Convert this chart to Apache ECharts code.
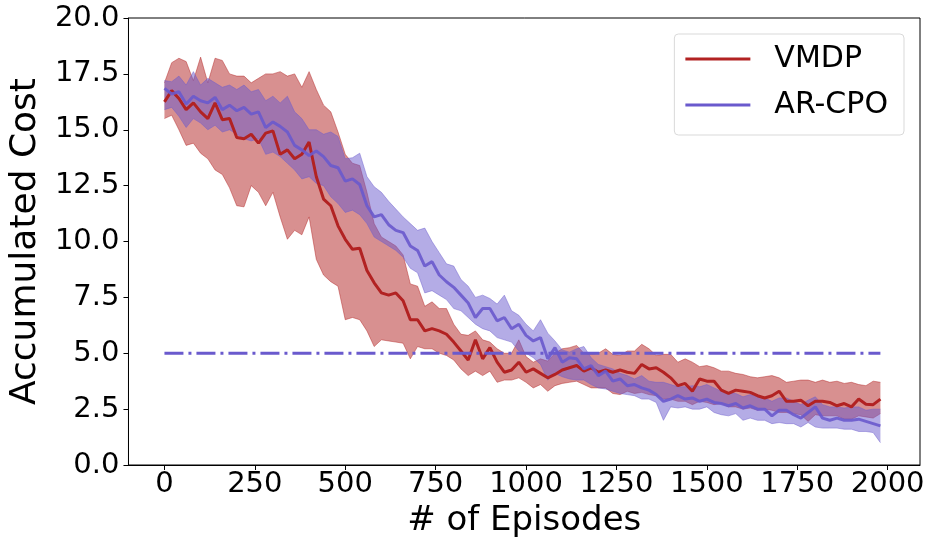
<!DOCTYPE html>
<html>
<head>
<meta charset="utf-8">
<script src="https://cdn.jsdelivr.net/npm/echarts@6/dist/echarts.min.js"></script>
<style>
  html, body { margin: 0; padding: 0; background: #fff; }
  #chart { width: 934px; height: 547px; }
</style>
</head>
<body>
<div id="chart"></div>
<script>
// episodes (x)
const episodes = [0, 20, 40, 60, 80, 100, 120, 140, 160, 180, 200, 220, 240, 260, 280, 300, 320, 340, 360, 380,
  400, 420, 440, 460, 480, 500, 520, 540, 560, 580, 600, 620, 640, 660, 680, 700, 720, 740, 760, 780,
  800, 820, 840, 860, 880, 900, 920, 940, 960, 980, 1000, 1020, 1040, 1060, 1080, 1100, 1120, 1140, 1160, 1180,
  1200, 1220, 1240, 1260, 1280, 1300, 1320, 1340, 1360, 1380, 1400, 1420, 1440, 1460, 1480, 1500, 1520, 1540, 1560, 1580,
  1600, 1620, 1640, 1660, 1680, 1700, 1720, 1740, 1760, 1780, 1800, 1820, 1840, 1860, 1880, 1900, 1920, 1940, 1960, 1980];

// VMDP
const vmdpMean = [16.25, 16.75, 16.4, 15.9, 16.2, 15.8, 15.5, 16.2, 15.45, 15.5, 14.65, 14.6, 14.8, 14.4, 14.85, 14.95, 13.9, 14.1, 13.7, 13.9,
  14.45, 12.9, 11.9, 11.6, 10.7, 10.1, 9.65, 9.7, 8.7, 8.15, 7.7, 7.6, 7.7, 7.35, 6.5, 6.5, 6.0, 6.1, 6.0, 5.85,
  5.5, 5.1, 4.7, 5.6, 4.75, 5.25, 4.6, 4.15, 4.25, 4.6, 4.15, 4.3, 4.1, 3.9, 4.05, 4.25, 4.35, 4.45, 4.2, 4.35,
  4.15, 4.25, 4.15, 4.25, 4.15, 4.1, 4.5, 4.3, 4.35, 4.15, 3.9, 3.55, 3.65, 3.3, 3.85, 3.75, 3.75, 3.35, 3.2, 3.35,
  3.3, 3.25, 3.1, 3.0, 3.1, 3.3, 2.85, 2.85, 2.9, 2.65, 2.85, 2.85, 2.8, 2.65, 2.75, 2.6, 2.95, 2.72, 2.7, 2.95];
const vmdpUpper = [17.1, 18.0, 18.2, 18.05, 17.2, 18.25, 17.1, 18.2, 18.1, 17.5, 17.4, 17.4, 17.1, 17.3, 17.5, 17.5, 17.6, 17.4, 17.5, 16.9,
  17.6, 16.8, 16.1, 15.8, 14.9, 13.9, 13.5, 13.4, 12.2, 10.8, 10.2, 10.0, 9.8, 9.4, 8.1, 8.0, 7.1, 7.3, 7.0, 7.0,
  6.3, 5.85, 5.8, 6.0, 5.6, 5.5, 5.2, 5.0, 5.0, 5.6, 4.85, 4.6, 4.75, 4.65, 5.0, 5.2, 5.25, 5.35, 5.0, 4.95,
  5.0, 5.2, 4.95, 4.9, 5.1, 5.1, 5.4, 5.2, 4.9, 4.95, 4.95, 4.6, 4.75, 4.6, 4.4, 4.45, 4.35, 4.2, 4.2, 4.1,
  4.05, 3.95, 3.9, 3.95, 4.0, 3.9, 3.7, 3.75, 3.8, 3.8, 3.7, 3.8, 3.7, 3.75, 3.65, 3.7, 3.6, 3.55, 3.75, 3.7];
const vmdpLower = [15.5, 15.65, 15.0, 14.3, 14.4, 13.95, 13.7, 13.2, 13.0, 12.4, 11.6, 11.55, 12.5, 12.2, 11.6, 12.2, 11.1, 10.1, 10.5, 10.3,
  11.1, 9.2, 8.5, 8.2, 8.0, 6.5, 6.6, 6.5, 6.0, 5.3, 5.6, 5.55, 5.5, 5.45, 4.75, 5.3, 5.2, 5.2, 5.0, 4.9,
  4.7, 4.3, 4.0, 4.2, 4.0, 4.2, 3.7, 3.8, 3.8, 3.9, 3.7, 3.45, 3.6, 3.3, 3.55, 3.65, 3.7, 3.75, 3.6, 3.45,
  3.45, 3.45, 3.2, 3.15, 3.3, 3.2, 3.25, 3.15, 3.1, 2.95, 2.95, 2.85, 2.85, 2.7, 2.85, 2.8, 2.7, 2.75, 2.6, 2.6,
  2.5, 2.55, 2.45, 2.5, 2.45, 2.35, 2.35, 2.3, 2.25, 1.95, 2.25, 2.2, 2.2, 2.2, 2.05, 2.05, 2.2, 2.15, 2.1, 2.3];

// AR-CPO
const arcpoMean = [16.85, 16.6, 16.7, 16.15, 16.5, 16.3, 16.2, 16.45, 15.9, 16.1, 15.85, 16.0, 15.7, 15.8, 15.1, 15.35, 15.15, 14.9, 14.3, 14.1,
  13.85, 14.05, 13.8, 13.4, 13.3, 12.7, 12.8, 12.55, 11.6, 11.1, 11.2, 10.75, 10.5, 10.4, 9.8, 9.6, 8.9, 9.1, 8.5, 8.2,
  7.95, 7.6, 7.25, 6.6, 7.0, 7.0, 6.45, 6.6, 6.1, 6.3, 5.8, 5.55, 5.7, 4.75, 5.25, 4.6, 4.8, 4.75, 4.3, 4.45,
  4.0, 4.2, 3.75, 3.85, 3.55, 3.6, 3.45, 3.35, 3.15, 2.85, 2.95, 3.1, 2.95, 3.0, 2.85, 2.95, 2.8, 2.75, 2.65, 2.75,
  2.55, 2.65, 2.5, 2.5, 2.2, 2.45, 2.45, 2.25, 2.1, 2.35, 2.6, 2.1, 2.0, 2.1, 2.0, 2.0, 2.05, 1.95, 1.85, 1.75];
const arcpoUpper = [17.2, 17.15, 17.4, 17.0, 17.6, 17.0, 17.3, 17.1, 16.9, 17.0, 16.8, 17.0, 16.7, 16.8, 16.3, 16.5, 16.2, 16.5, 15.8, 15.5,
  15.0, 15.0, 14.8, 14.9, 14.7, 13.7, 13.75, 13.95, 12.9, 12.45, 12.2, 11.8, 11.45, 11.1, 10.8, 10.5, 10.6, 10.0, 9.5, 9.0,
  8.9, 8.3, 8.0, 7.5, 7.6, 7.45, 7.2, 7.6, 6.9, 6.7, 6.3, 6.0, 6.5, 5.9, 5.55, 5.15, 5.05, 5.2, 5.3, 4.8,
  4.5, 4.4, 4.3, 4.1, 4.0, 3.85, 4.0, 3.75, 3.7, 3.7, 3.6, 3.5, 3.5, 3.55, 3.5, 3.6, 3.45, 3.3, 3.25, 3.2,
  3.05, 3.15, 3.05, 3.0, 2.85, 3.0, 3.0, 2.85, 2.7, 2.9, 3.05, 2.7, 2.6, 2.6, 2.55, 2.6, 2.6, 2.45, 2.5, 2.5];
const arcpoLower = [15.9, 16.0, 15.6, 15.1, 15.5, 15.3, 15.0, 15.2, 14.9, 15.0, 14.8, 14.6, 14.5, 14.6, 13.9, 14.0, 13.8, 13.5, 13.2, 12.8,
  12.9, 12.6, 12.5, 12.0, 11.7, 11.3, 11.4, 11.2, 10.8, 10.2, 10.0, 9.8, 9.6, 9.3, 8.8, 8.6, 7.7, 7.8, 7.6, 7.4,
  7.0, 6.9, 6.6, 6.3, 6.1, 6.0, 5.7, 5.6, 5.5, 5.1, 5.0, 4.8, 4.5, 3.8, 4.1, 3.95, 3.85, 3.8, 3.8, 3.6,
  3.45, 3.4, 3.3, 3.2, 3.15, 3.1, 2.95, 2.95, 2.8, 2.0, 2.6, 2.55, 2.6, 2.5, 2.5, 2.6, 2.35, 2.25, 2.2, 2.3,
  2.0, 2.1, 2.0, 2.0, 1.85, 1.9, 1.85, 1.85, 1.7, 1.9, 1.7, 1.65, 1.65, 1.65, 1.6, 1.6, 1.5, 1.5, 1.45, 1.0];

// cost threshold
const limitX = [0, 1980];
const limitY = [5, 5];

const xTicks = [0, 250, 500, 750, 1000, 1250, 1500, 1750, 2000];

const RED = '#b22222';
const BLUE = '#6a5acd';

const pairs = (xs, ys) => xs.map((x, i) => [x, ys[i]]);

// shaded band between lower and upper, drawn as one polygon through the axes
function band(name, lower, upper, color) {
  return {
    name: name, type: 'custom', silent: true, z: 1,
    data: pairs(episodes, lower),
    encode: { x: 0, y: 1 },
    renderItem: function (params, api) {
      if (params.dataIndex !== 0) return;
      const top = episodes.map((x, i) => api.coord([x, upper[i]]));
      const bot = episodes.map((x, i) => api.coord([x, lower[i]]));
      const edge = { stroke: color, fill: null, lineWidth: 1, opacity: 0.45 };
      return {
        type: 'group',
        children: [
          { type: 'polygon', shape: { points: top.concat(bot.slice().reverse()) },
            style: { fill: color, opacity: 0.5 } },
          { type: 'polyline', shape: { points: top }, style: edge },
          { type: 'polyline', shape: { points: bot }, style: edge }
        ]
      };
    }
  };
}

const chart = echarts.init(document.getElementById('chart'));
chart.setOption({
  animation: false,
  textStyle: { fontFamily: 'DejaVu Sans' },
  grid: { left: 120, right: 14, top: 18, bottom: 82, show: true, borderColor: '#000', borderWidth: 1 },
  legend: {
    data: ['VMDP', 'AR-CPO'],
    orient: 'vertical',
    right: 30, top: 34,
    padding: [7, 16, 12, 11],
    itemGap: 10,
    itemWidth: 65, itemHeight: 3,
    icon: 'rect',
    backgroundColor: '#fff',
    borderColor: '#d9d9d9', borderWidth: 1, borderRadius: 4,
    textStyle: { fontSize: 30, color: '#000', lineHeight: 36, padding: [0, 0, 0, 19] }
  },
  xAxis: {
    type: 'value', min: -99.5, max: 2089.5,
    name: '# of Episodes', nameLocation: 'middle', nameGap: 35,
    nameTextStyle: { fontSize: 34, color: '#000' },
    axisLine: { show: true, onZero: false, lineStyle: { color: '#000', width: 1 } },
    axisTick: { show: true, length: 5, customValues: xTicks, lineStyle: { color: '#000' } },
    axisLabel: { customValues: xTicks, fontSize: 29, color: '#000', margin: 5, formatter: v => String(v) },
    splitLine: { show: false }
  },
  yAxis: {
    type: 'value', min: 0, max: 20, interval: 2.5,
    name: 'Accumulated Cost', nameLocation: 'middle', nameGap: 84,
    nameTextStyle: { fontSize: 36, color: '#000' },
    axisLine: { show: true, onZero: false, lineStyle: { color: '#000', width: 1 } },
    axisTick: { show: true, length: 5, lineStyle: { color: '#000' } },
    axisLabel: { fontSize: 29, color: '#000', margin: 9, formatter: v => v.toFixed(1) },
    splitLine: { show: false }
  },
  series: [
    band('vmdp band', vmdpLower, vmdpUpper, RED),
    band('arcpo band', arcpoLower, arcpoUpper, BLUE),
    { name: 'VMDP', type: 'line', data: pairs(episodes, vmdpMean), symbol: 'none',
      itemStyle: { color: RED }, lineStyle: { color: RED, width: 3 }, z: 3 },
    { name: 'AR-CPO', type: 'line', data: pairs(episodes, arcpoMean), symbol: 'none',
      itemStyle: { color: BLUE }, lineStyle: { color: BLUE, width: 3, opacity: 0.9 }, z: 4 },
    { name: 'limit', type: 'line', data: pairs(limitX, limitY), symbol: 'none', silent: true,
      lineStyle: { color: BLUE, width: 3, type: [19, 5, 3, 5] }, z: 5 }
  ]
});
</script>
</body>
</html>
